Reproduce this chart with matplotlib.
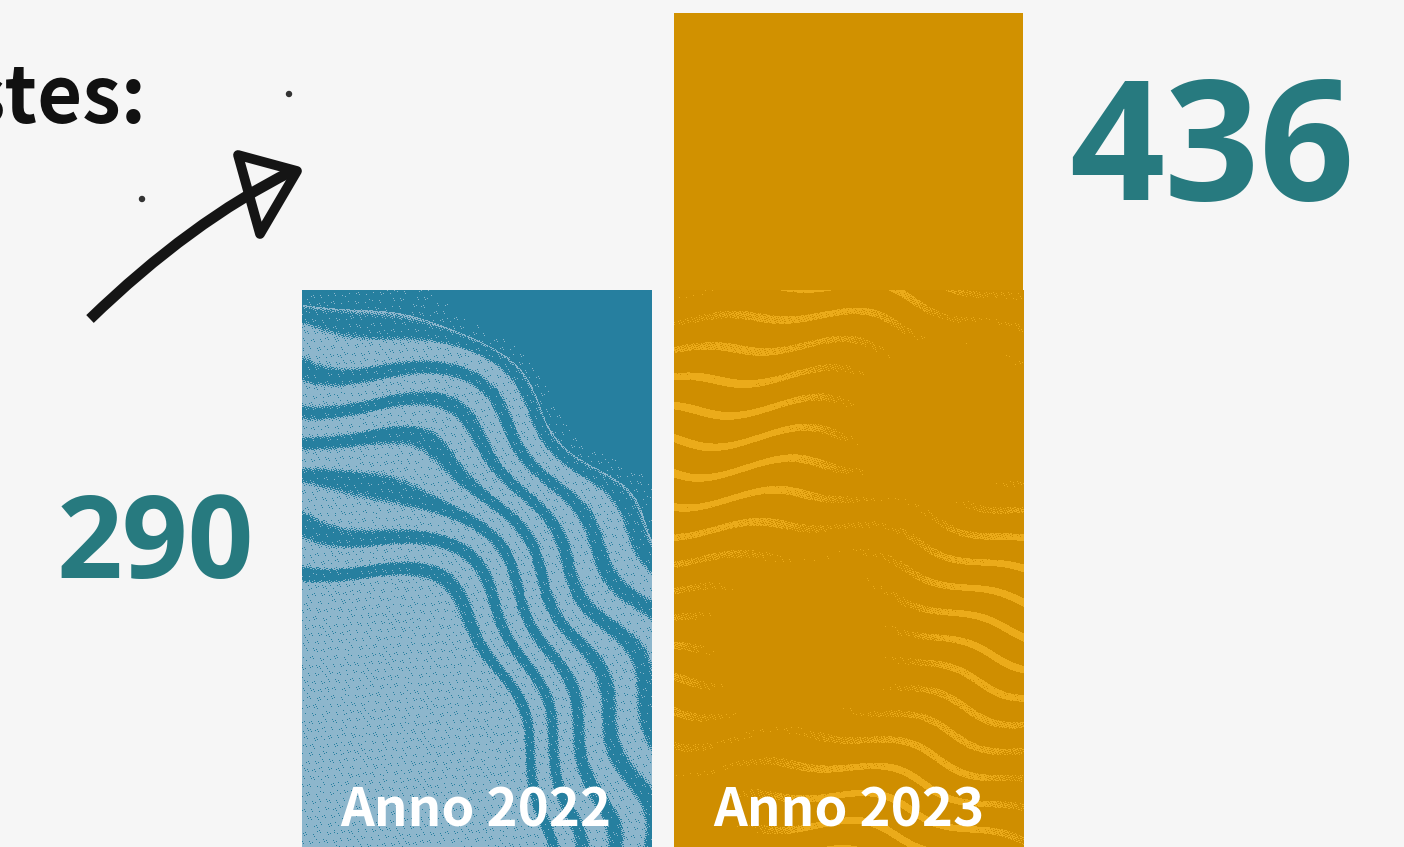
import numpy as np
import matplotlib
matplotlib.use("Agg")
import matplotlib.pyplot as plt
from matplotlib.path import Path
from matplotlib.patches import PathPatch, Polygon
from matplotlib.transforms import Affine2D
from matplotlib.colors import to_rgb

# ---------------- data ----------------
categories = ["Anno 2022", "Anno 2023"]
values = [290, 436]
value_labels = ["290", "436"]
title_fragment = "stes:"

# ---------------- style ----------------
BG = "#f6f6f6"
TEAL = "#277a7f"
BLUE = "#267f9f"
BLUE_LIGHT = "#8db6cc"
GOLD = "#d19100"
GOLD_LOW = "#cf8e00"
GOLD_LIGHT = "#ebab1a"
FONT = ["Noto Sans CJK SC", "DejaVu Sans"]
NUM_FONT = ["Open Sans", "DejaVu Sans"]

W, H = 1404, 847
fig = plt.figure(figsize=(W / 100, H / 100), dpi=100, facecolor=BG)
ax = fig.add_axes([0, 0, 1, 1])
ax.set_facecolor(BG)
ax.set_axis_off()

x = np.arange(len(categories))
ax.set_xlim(-1.278, 2.491)
ax.set_ylim(-3.6, 442.9)

crop = 10  # bars continue below the visible crop
bars = ax.bar(x, np.array(values) + crop, bottom=-crop, width=0.937,
              color=[BLUE, GOLD], linewidth=0, zorder=2)

# pixel (top-down) -> display transform for decorations
PIX = Affine2D().scale(1, -1).translate(0, H)


def py2data(py):
    return ax.transData.inverted().transform((0, H - py))[1]


def px2data(px):
    return ax.transData.inverted().transform((px, 0))[0]


fig.canvas.draw()


def bar_pixel_box(bar):
    (x0, y0), (x1, y1) = ax.transData.transform(
        [(bar.get_x(), bar.get_y()), (bar.get_x() + bar.get_width(), bar.get_y() + bar.get_height())])
    return x0, x1, H - y1, H - y0  # left, right, top, bottom (top-down px)


def grain(px, py):
    return np.sin(px * 2.13 + py * 0.71) * np.sin(py * 1.93 - px * 0.43) + \
        0.5 * np.sin(px * 0.91 - py * 3.07)


# ---- texture for 2022 bar (wood rings) ----
b = bars[0]
l, r, t, bt = bar_pixel_box(b)
PX, PY = np.meshgrid(np.arange(l, r), np.arange(t, min(bt, H)))
cx, cy = 300, 900
rr = np.hypot((PX - cx) * 1.35, PY - cy) + 16 * np.sin(PX / 41.0) + 10 * np.sin(PY / 27.0 + PX / 53.0)
g = grain(PX, PY)
light = rr < 330
ring = (rr >= 330) & (rr < 600)
light |= ring & (np.sin(2 * np.pi * rr / 40.0) + 0.35 * g > -0.3)
light &= ~(g < -1.05)
light |= (~light) & (rr < 620) & (g > 1.15)
img = np.empty(rr.shape + (3,))
img[:] = to_rgb(BLUE)
img[light] = to_rgb(BLUE_LIGHT)
im = ax.imshow(img, extent=(b.get_x(), b.get_x() + b.get_width(), py2data(PY.max() + 1), py2data(t)),
               aspect="auto", zorder=3, interpolation="nearest")
im.set_clip_path(b)

# ---- texture for 2023 bar (streaks in lower part) ----
b = bars[1]
l, r, t, bt = bar_pixel_box(b)
t2 = 290
PX, PY = np.meshgrid(np.arange(l, r), np.arange(t2, min(bt, H)))
g = grain(PX, PY)
phase = PY + 14 * np.sin(PX / 60.0) + 6 * np.sin(PX / 23.0 + PY / 40.0) - 0.12 * (PX - l)
streak = np.sin(2 * np.pi * phase / 30.0) > 0.72
fade = np.sin(PX / 70.0 + PY / 110.0) + 0.6 * np.sin(PY / 47.0 - PX / 90.0)
streak &= (0.6 * g + fade) > 0.1
img = np.empty(PX.shape + (3,))
img[:] = to_rgb(GOLD_LOW)
img[streak] = to_rgb(GOLD_LIGHT)
im = ax.imshow(img, extent=(b.get_x(), b.get_x() + b.get_width(), py2data(PY.max() + 1), py2data(t2)),
               aspect="auto", zorder=3, interpolation="nearest")
im.set_clip_path(b)

# ---------------- texts ----------------
for i, cat in enumerate(categories):
    ax.text(x[i], py2data(826), cat, ha="center", va="baseline", color="white",
            fontsize=38, fontweight="bold", family=FONT, zorder=5)

ax.text(px2data(155), py2data(578), value_labels[0], ha="center", va="baseline",
        color=TEAL, fontsize=83, fontweight="bold", family=NUM_FONT, zorder=5)
ax.text(px2data(1212), py2data(200), value_labels[1], ha="center", va="baseline",
        color=TEAL, fontsize=120, fontweight="bold", family=NUM_FONT, zorder=5)

ax.text(px2data(146), py2data(123), title_fragment, ha="right", va="baseline",
        color="#111111", fontsize=56, fontweight="bold", family=FONT, zorder=5)

# ---------------- hand-drawn arrow ----------------
shaft = Path([(90, 319), (190, 222), (292, 171)], [Path.MOVETO, Path.CURVE3, Path.CURVE3])
fig.add_artist(PathPatch(shaft, transform=PIX, fill=False, edgecolor="#151515",
                         linewidth=7.8, capstyle="butt", zorder=6))
head = Polygon([(238, 155), (297, 171), (260, 234)], closed=True, transform=PIX,
               fill=False, edgecolor="#151515", linewidth=7.0, joinstyle="round", zorder=6)
fig.add_artist(head)
for (sx, sy) in [(289, 94), (142, 199)]:
    fig.add_artist(plt.Circle((sx, sy), 2.5, transform=PIX, color="#333333", zorder=6))

fig.savefig("out.png", dpi=100, facecolor=BG)
